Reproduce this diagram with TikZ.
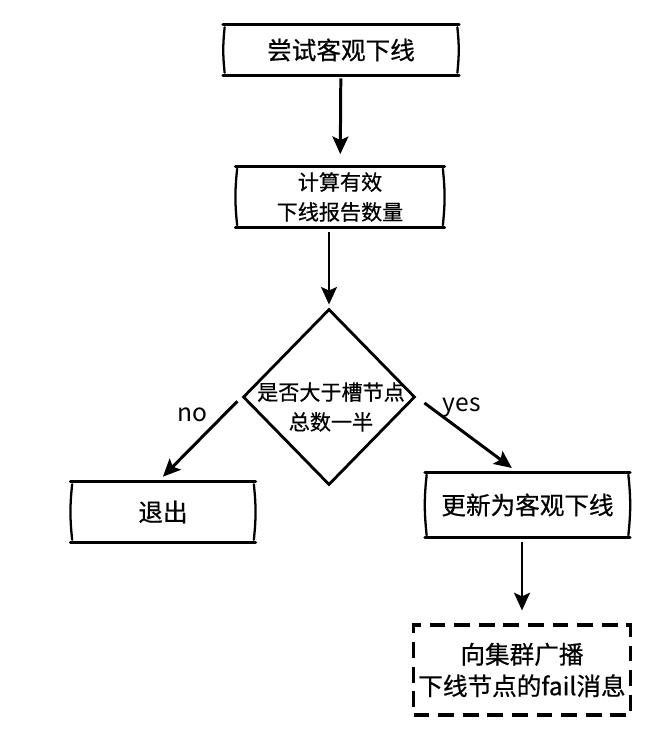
\documentclass[tikz,border=0pt]{standalone}
\usepackage{fontspec}
\newfontfamily\cjk[FakeBold=0.6]{Noto Sans CJK SC}
\newfontfamily\shouxie{Noto Sans CJK SC}
\usetikzlibrary{arrows.meta,shapes.geometric}

\begin{document}
\begin{tikzpicture}[
    jiantou/.style={line width=1.7pt, -{Stealth[length=10pt,width=9pt,inset=2pt]}},
    bian/.style={line width=1.6pt, line cap=round},
    ce/.style={line width=1.3pt, line cap=round},
    kuang/.style={inner sep=0pt, align=center, font=\cjk\fontsize{14}{18}\selectfont},
    xiaozi/.style={font=\cjk\fontsize{12}{17}\selectfont},
    biaoqian/.style={font=\shouxie\fontsize{14}{16}\selectfont, inner sep=2pt},
]
    % 画布大小
    \useasboundingbox (0,0) rectangle (13,-14.6);

    % === 各个步骤框 ===
    \node[kuang, minimum width=4.64cm, minimum height=1.0cm] (try) at (6.82,-1.0) {尝试客观下线};
    \node[kuang, xiaozi, minimum width=4.1cm, minimum height=1.22cm] (count) at (6.8,-3.94) {计算有效\\下线报告数量};
    \node[kuang, minimum width=3.62cm, minimum height=1.2cm] (quit) at (3.26,-10.24) {退出};
    \node[kuang, minimum width=4.02cm, minimum height=1.3cm] (update) at (10.55,-10.1) {更新为客观下线};
    \node[kuang, draw, line width=1.8pt, dash pattern=on 9pt off 5pt, minimum width=4.34cm, minimum height=1.8cm] (guangbo) at (10.44,-13.4) {向集群广播\\下线节点的fail消息};

    % 判断菱形（文字单独放，菱形不被撑大）
    \node[draw, diamond, line width=1.6pt, minimum width=3.44cm, minimum height=3.52cm, inner sep=0pt] (judge) at (6.58,-7.94) {};
    \node[xiaozi, align=center, inner sep=0pt] (judgetext) at (6.62,-8.14) {是否大于槽节点\\总数一半};

    % === 手绘风格的框线 ===
    % 上下两条粗线，左右两边略弯
    \foreach \n in {try,count,quit,update}{
        \draw[bian] ([xshift=-1pt]\n.north west) -- ([xshift=1pt]\n.north east);
        \draw[bian] ([xshift=-1pt]\n.south west) -- ([xshift=1pt]\n.south east);
        \draw[ce] ([yshift=-1.5pt]\n.north west) to[bend right=6] ([yshift=1.5pt]\n.south west);
        \draw[ce] ([yshift=-1.5pt]\n.north east) to[bend left=6] ([yshift=1.5pt]\n.south east);
    }

    % === 箭头 ===
    \draw[jiantou, shorten <=0.06cm, shorten >=0.24cm] (try) -- (count);
    \draw[jiantou, shorten <=0.08cm, shorten >=0.06cm] (count.south -| judge.north) -- (judge.north);
    \draw[jiantou, shorten <=0.12cm, shorten >=0.14cm] (judge.west) -- ([xshift=-0.1cm]quit.north)
        node[biaoqian, pos=0.35, above left] (no) {no};
    \draw[jiantou, shorten <=0.2cm, shorten >=0.14cm] (judge.east) -- ([xshift=-0.2cm]update.north)
        node[biaoqian, pos=0.45, above=5pt] (yes) {yes};
    \draw[jiantou, shorten <=0.08cm, shorten >=0.26cm] (update.south -| guangbo.north) -- (guangbo.north);
\end{tikzpicture}
\end{document}
